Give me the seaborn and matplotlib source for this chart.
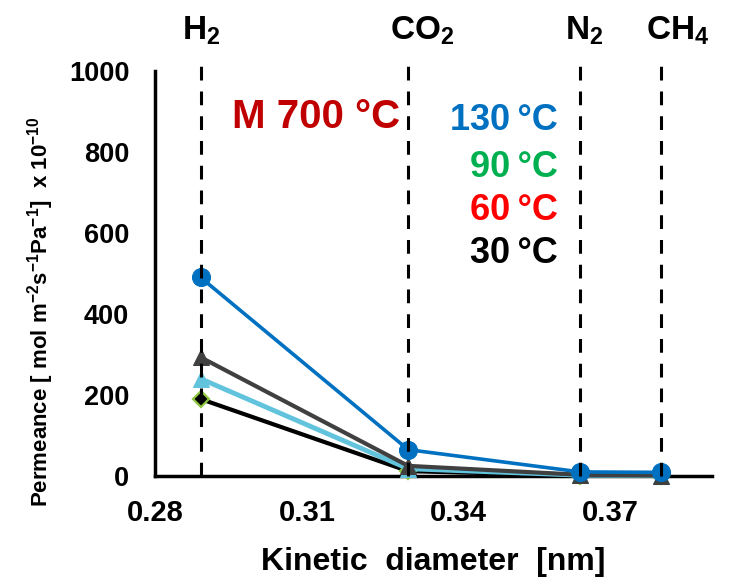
import matplotlib
matplotlib.use("Agg")
import matplotlib.pyplot as plt
import matplotlib.transforms as mtransforms
import seaborn as sns
import pandas as pd

# ---- data ----
gases = ["H$_2$", "CO$_2$", "N$_2$", "CH$_4$"]
kinetic_diameter = [0.289, 0.330, 0.364, 0.380]
series_names = ["130 °C", "90 °C", "60 °C", "30 °C"]
perm_130 = [490, 65, 10, 9]
perm_90 = [293, 25, 3, 1]
perm_60 = [240, 18, 2, 1]
perm_30 = [190, 12, 1, 0.5]
x_ticks = [0.28, 0.31, 0.34, 0.37]
y_ticks = [0, 200, 400, 600, 800, 1000]

rows = []
for name, vals in zip(series_names, [perm_130, perm_90, perm_60, perm_30]):
    for x, v in zip(kinetic_diameter, vals):
        rows.append({"series": name, "d": x, "perm": v})
df = pd.DataFrame(rows)

sns.set_style("white")
plt.rcParams["font.family"] = ["Liberation Sans", "DejaVu Sans"]
plt.rcParams["font.weight"] = "bold"
plt.rcParams["mathtext.default"] = "regular"
plt.rcParams["text.color"] = "black"
plt.rcParams["axes.labelcolor"] = "black"
plt.rcParams["xtick.color"] = "black"
plt.rcParams["ytick.color"] = "black"

W, H = 730, 579
fig = plt.figure(figsize=(W / 100, H / 100), dpi=100)
ax = fig.add_axes([155 / W, 1 - 476 / H, 557 / W, 405.3 / H])

styles = {
    "30 °C": dict(color="black", marker="D", markersize=8.5, markerfacecolor="black",
                  markeredgecolor="#8DC63F", markeredgewidth=1.6, linewidth=3),
    "60 °C": dict(color="#62C3DD", marker="^", markersize=12, markerfacecolor="#62C3DD",
                  markeredgecolor="#62C3DD", linewidth=3.5),
    "90 °C": dict(color="#404040", marker="^", markersize=12, markerfacecolor="#404040",
                  markeredgecolor="#404040", linewidth=3),
    "130 °C": dict(color="#0070C0", marker="o", markersize=13, markerfacecolor="#0070C0",
                   markeredgecolor="#0070C0", linewidth=2.6),
}
for name in ["30 °C", "60 °C", "90 °C", "130 °C"]:
    sub = df[df["series"] == name]
    sns.lineplot(data=sub, x="d", y="perm", ax=ax, clip_on=False, zorder=3,
                 **styles[name])

# dashed gas lines + labels
blend = mtransforms.blended_transform_factory(ax.transData, fig.transFigure)
offsets = [-19, -18, -15, -15]
for g, x, off in zip(gases, kinetic_diameter, offsets):
    ax.plot([x, x], [0, 1035], ls=(0, (4.5, 3.6)), color="black", lw=2.2,
            clip_on=False, zorder=4)
    tr = mtransforms.offset_copy(blend, fig=fig, x=off, y=0, units="dots")
    ax.text(x, 1 - 40 / H, g, transform=tr, ha="left", va="baseline", fontsize=24,
            fontweight="bold", color="black")

ax.set_xlim(0.28, 0.39)
ax.set_ylim(0, 1000)
ax.set_xticks(x_ticks)
ax.set_xticklabels([f"{v:.2f}" for v in x_ticks])
ax.set_yticks(y_ticks)
ax.tick_params(axis="both", direction="inout", length=9, width=2.5, colors="black")
ax.tick_params(axis="y", pad=14, labelsize=19.5)
ax.tick_params(axis="x", pad=12, labelsize=21)
for lab in ax.get_xticklabels() + ax.get_yticklabels():
    lab.set_fontweight("bold")
for s in ["top", "right"]:
    ax.spines[s].set_visible(False)
for s in ["left", "bottom"]:
    ax.spines[s].set_linewidth(2.5)
    ax.spines[s].set_color("black")

ax.set_xlabel("")
ax.set_ylabel("")
fig.text((260 + 607) / 2 / W, 1 - 570 / H, "Kinetic  diameter  [nm]", fontsize=23,
         fontweight="bold", ha="center", va="baseline")
fig.text(41 / W, 1 - 312 / H,
         "Permeance [ mol m$^{-2}$s$^{-1}$Pa$^{-1}$]  x 10$^{-10}$",
         fontsize=16, fontweight="bold", rotation=90, ha="center", va="center")

# annotations
fig.text(232 / W, 1 - 128 / H, "M 700 °C", fontsize=29, fontweight="bold",
         color="#C00000", ha="left", va="baseline")
label_colors = ["#0070C0", "#00B050", "#FF0000", "black"]
baselines = [130, 177, 220, 263]
for name, c, b in zip(series_names, label_colors, baselines):
    fig.text(558 / W, 1 - b / H, name.replace(" ", "\u2009"), fontsize=26,
             fontweight="bold", color=c, ha="right", va="baseline")

if ax.get_legend():
    ax.get_legend().remove()
fig.savefig("out.png", dpi=100)
